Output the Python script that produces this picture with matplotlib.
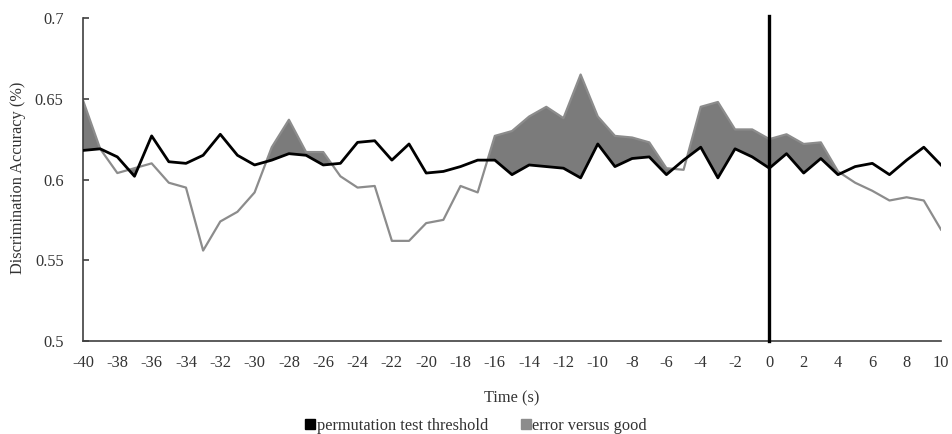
import matplotlib
matplotlib.use("Agg")
import matplotlib.pyplot as plt
from matplotlib.lines import Line2D
import numpy as np

plt.rcParams['font.family'] = ['Liberation Serif', 'DejaVu Serif']

time_s = list(range(-40, 11))
threshold = [0.618, 0.619, 0.614, 0.602, 0.627, 0.611, 0.610, 0.615, 0.628, 0.615,
             0.609, 0.612, 0.616, 0.615, 0.609, 0.610, 0.623, 0.624, 0.612, 0.622,
             0.604, 0.605, 0.608, 0.612, 0.612, 0.603, 0.609, 0.608, 0.607, 0.601,
             0.622, 0.608, 0.613, 0.614, 0.603, 0.612, 0.620, 0.601, 0.619, 0.614,
             0.607, 0.616, 0.604, 0.613, 0.603, 0.608, 0.610, 0.603, 0.612, 0.620,
             0.609]
error_vs_good = [0.649, 0.619, 0.604, 0.607, 0.610, 0.598, 0.595, 0.556, 0.574, 0.580,
                 0.592, 0.620, 0.637, 0.617, 0.617, 0.602, 0.595, 0.596, 0.562, 0.562,
                 0.573, 0.575, 0.596, 0.592, 0.627, 0.630, 0.639, 0.645, 0.638, 0.665,
                 0.639, 0.627, 0.626, 0.623, 0.607, 0.606, 0.645, 0.648, 0.631, 0.631,
                 0.625, 0.628, 0.622, 0.623, 0.605, 0.598, 0.593, 0.587, 0.589, 0.587,
                 0.569]
x_ticks = list(range(-40, 11, 2))
y_ticks = [0.5, 0.55, 0.6, 0.65, 0.7]
y_tick_labels = ['0.5', '0.55', '0.6', '0.65', '0.7']

FS = 11.8
fig = plt.figure(figsize=(9.52, 4.34), dpi=100)
ax = fig.add_axes([0.0872, 0.2143, 0.9012, 0.7442])

t = np.array(time_s)
thr = np.array(threshold)
egv = np.array(error_vs_good)

ax.fill_between(t, thr, egv, where=egv > thr, interpolate=True,
                color='#7b7b7b', linewidth=0, zorder=1)
ax.plot(t, egv, color='#8c8c8c', linewidth=1.6, zorder=2)
ax.plot(t, thr, color='black', linewidth=2.0, zorder=3)
ax.axvline(0, ymin=0, ymax=1.006, color='black', linewidth=2.4, zorder=4, clip_on=False)

ax.set_xlim(-40, 10)
ax.set_ylim(0.5, 0.7)
ax.set_xticks(x_ticks)
ax.set_xticklabels([str(v) for v in x_ticks])
ax.set_yticks(y_ticks)
ax.set_yticklabels(y_tick_labels)

for s in ['top', 'right']:
    ax.spines[s].set_visible(False)
for s in ['left', 'bottom']:
    ax.spines[s].set_color('#404040')
    ax.spines[s].set_linewidth(1.2)

ax.tick_params(axis='y', direction='in', length=4, width=1.2, color='#404040',
               labelsize=FS, pad=14)
ax.tick_params(axis='y', labelcolor='#333333')
ax.tick_params(axis='x', length=0, labelsize=FS, pad=10, labelcolor='#333333')

ax.set_xlabel('Time (s)', fontsize=FS, color='#333333', labelpad=14)
fig.text(0.019, 0.59, 'Discrimination Accuracy (%)', rotation=90, fontsize=FS,
         color='#333333', ha='center', va='center')

handles = [Line2D([], [], marker='s', linestyle='none', color='black', markersize=7.5),
           Line2D([], [], marker='s', linestyle='none', color='#8c8c8c', markersize=7.5)]
fig.legend(handles, ['permutation test threshold', 'error versus good'],
           loc='center', bbox_to_anchor=(0.5, 0.018), ncol=2, frameon=False,
           fontsize=FS, handlelength=0.6, handletextpad=0.1, columnspacing=2.0,
           labelcolor='#333333')

fig.savefig('out.png', dpi=100)
